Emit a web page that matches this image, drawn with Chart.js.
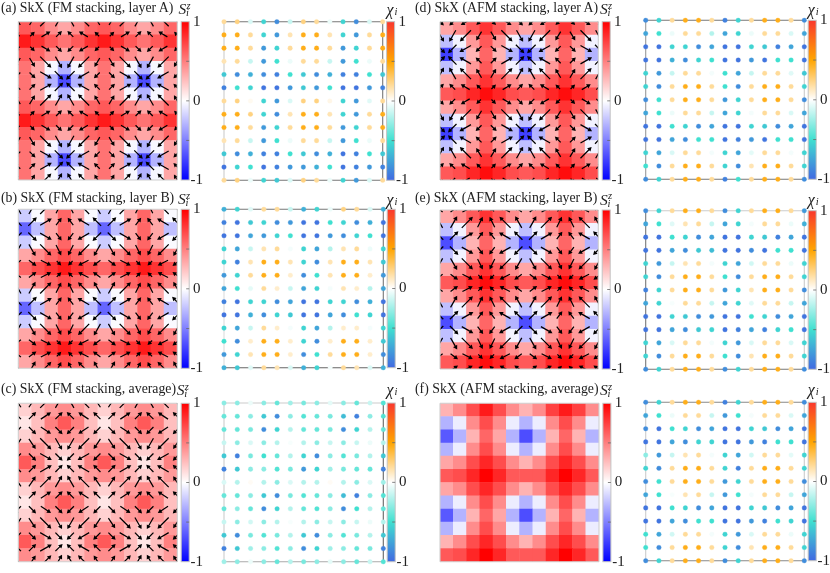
<!DOCTYPE html>
<html><head><meta charset="utf-8">
<script src="https://cdn.jsdelivr.net/npm/chart.js@4"></script>
<style>
html,body{margin:0;padding:0;background:#fff;width:830px;height:573px;overflow:hidden}
canvas{position:absolute}
.t{position:absolute;white-space:nowrap;font-family:"Liberation Serif",serif;color:#222;line-height:1;z-index:5}
.m{font-style:italic}
</style></head><body>
<script>
// ---- tick labels and titles
const barTickLabels = {"1":"1","0":"0","-1":"-1"};
const titles = ["(a) SkX (FM stacking, layer A)","(b) SkX (FM stacking, layer B)","(c) SkX (FM stacking, average)","(d) SkX (AFM stacking, layer A)","(e) SkX (AFM stacking, layer B)","(f) SkX (AFM stacking, average)"];

// ---- S^z heat maps (12 x 12 cells, top row first)
const heatA = [
[.65,.6,.45,.35,.45,.6,.65,.6,.45,.35,.45,.6],
[.9,.8,.65,.55,.65,.8,.9,.8,.65,.55,.65,.8],
[.65,.6,.45,.35,.45,.6,.65,.6,.45,.35,.45,.6],
[.55,.35,-.03,-.3,-.03,.35,.55,.35,-.03,-.3,-.03,.35],
[.55,.35,-.3,-.7,-.3,.35,.55,.35,-.3,-.7,-.3,.35],
[.55,.35,-.03,-.3,-.03,.35,.55,.35,-.03,-.3,-.03,.35],
[.65,.6,.45,.35,.45,.6,.65,.6,.45,.35,.45,.6],
[.9,.8,.65,.55,.65,.8,.9,.8,.65,.55,.65,.8],
[.65,.6,.45,.35,.45,.6,.65,.6,.45,.35,.45,.6],
[.55,.35,-.03,-.3,-.03,.35,.55,.35,-.03,-.3,-.03,.35],
[.55,.35,-.3,-.7,-.3,.35,.55,.35,-.3,-.7,-.3,.35],
[.55,.35,-.03,-.3,-.03,.35,.55,.35,-.03,-.3,-.03,.35]];
const heatB = [
[-.2,-.02,.35,.6,.35,-.02,-.2,-.02,.35,.6,.35,-.02],
[-.6,-.25,.35,.6,.35,-.25,-.6,-.25,.35,.6,.35,-.25],
[-.2,-.02,.35,.6,.35,-.02,-.2,-.02,.35,.6,.35,-.02],
[.35,.45,.6,.7,.6,.45,.35,.45,.6,.7,.6,.45],
[.6,.7,.8,.9,.8,.7,.6,.7,.8,.9,.8,.7],
[.35,.45,.6,.7,.6,.45,.35,.45,.6,.7,.6,.45],
[-.2,-.02,.35,.6,.35,-.02,-.2,-.02,.35,.6,.35,-.02],
[-.6,-.25,.35,.6,.35,-.25,-.6,-.25,.35,.6,.35,-.25],
[-.2,-.02,.35,.6,.35,-.02,-.2,-.02,.35,.6,.35,-.02],
[.35,.45,.6,.7,.6,.45,.35,.45,.6,.7,.6,.45],
[.6,.7,.8,.9,.8,.7,.6,.7,.8,.9,.8,.7],
[.35,.45,.6,.7,.6,.45,.35,.45,.6,.7,.6,.45]];
const heatC = [
[.18,.28,.4,.45,.4,.28,.18,.28,.4,.45,.4,.28],
[.1,.25,.5,.65,.5,.25,.1,.25,.5,.65,.5,.25],
[.18,.28,.4,.45,.4,.28,.18,.28,.4,.45,.4,.28],
[.45,.4,.28,.18,.28,.4,.45,.4,.28,.18,.28,.4],
[.65,.5,.25,.1,.25,.5,.65,.5,.25,.1,.25,.5],
[.45,.4,.28,.18,.28,.4,.45,.4,.28,.18,.28,.4],
[.18,.28,.4,.45,.4,.28,.18,.28,.4,.45,.4,.28],
[.1,.25,.5,.65,.5,.25,.1,.25,.5,.65,.5,.25],
[.18,.28,.4,.45,.4,.28,.18,.28,.4,.45,.4,.28],
[.45,.4,.28,.18,.28,.4,.45,.4,.28,.18,.28,.4],
[.65,.5,.25,.1,.25,.5,.65,.5,.25,.1,.25,.5],
[.45,.4,.28,.18,.28,.4,.45,.4,.28,.18,.28,.4]];
const heatD = [
[.35,.45,.65,.8,.65,.45,.35,.45,.65,.8,.65,.45],
[-.25,-.05,.4,.65,.4,-.05,-.25,-.05,.4,.65,.4,-.05],
[-.75,-.3,.3,.6,.3,-.3,-.75,-.3,.3,.6,.3,-.3],
[-.25,-.05,.4,.65,.4,-.05,-.25,-.05,.4,.65,.4,-.05],
[.35,.45,.65,.8,.65,.45,.35,.45,.65,.8,.65,.45],
[.65,.7,.85,.95,.85,.7,.65,.7,.85,.95,.85,.7],
[.35,.45,.65,.8,.65,.45,.35,.45,.65,.8,.65,.45],
[-.25,-.05,.4,.65,.4,-.05,-.25,-.05,.4,.65,.4,-.05],
[-.75,-.3,.3,.6,.3,-.3,-.75,-.3,.3,.6,.3,-.3],
[-.25,-.05,.4,.65,.4,-.05,-.25,-.05,.4,.65,.4,-.05],
[.35,.45,.65,.8,.65,.45,.35,.45,.65,.8,.65,.45],
[.65,.7,.85,.95,.85,.7,.65,.7,.85,.95,.85,.7]];
const heatE = [
[.35,.45,.65,.8,.65,.45,.35,.45,.65,.8,.65,.45],
[-.25,-.05,.4,.65,.4,-.05,-.25,-.05,.4,.65,.4,-.05],
[-.7,-.3,.3,.6,.3,-.3,-.7,-.3,.3,.6,.3,-.3],
[-.25,-.05,.4,.65,.4,-.05,-.25,-.05,.4,.65,.4,-.05],
[.35,.45,.65,.8,.65,.45,.35,.45,.65,.8,.65,.45],
[.65,.7,.85,.95,.85,.7,.65,.7,.85,.95,.85,.7],
[.35,.45,.65,.8,.65,.45,.35,.45,.65,.8,.65,.45],
[-.25,-.05,.4,.65,.4,-.05,-.25,-.05,.4,.65,.4,-.05],
[-.7,-.3,.3,.6,.3,-.3,-.7,-.3,.3,.6,.3,-.3],
[-.25,-.05,.4,.65,.4,-.05,-.25,-.05,.4,.65,.4,-.05],
[.35,.45,.65,.8,.65,.45,.35,.45,.65,.8,.65,.45],
[.65,.7,.85,.95,.85,.7,.65,.7,.85,.95,.85,.7]];
const heatF = [
[.3,.45,.7,.9,.7,.45,.3,.45,.75,.9,.75,.45],
[-.3,-.07,.45,.7,.45,-.07,-.3,-.07,.45,.7,.45,-.07],
[-.65,-.3,.3,.6,.35,-.3,-.7,-.3,.3,.6,.3,-.3],
[-.3,-.07,.45,.7,.45,-.07,-.3,-.07,.45,.7,.45,-.07],
[.35,.45,.7,.85,.7,.45,.3,.45,.7,.85,.7,.45],
[.65,.7,.85,1,.85,.65,.65,.65,.85,1,.85,.65],
[.35,.45,.7,.85,.7,.45,.3,.45,.7,.85,.7,.45],
[-.3,-.07,.45,.7,.45,-.07,-.3,-.07,.45,.7,.45,-.07],
[-.65,-.3,.3,.6,.35,-.3,-.7,-.3,.3,.6,.3,-.3],
[-.3,-.07,.45,.7,.45,-.07,-.3,-.07,.45,.7,.45,-.07],
[.3,.45,.7,.85,.7,.45,.3,.45,.7,.85,.7,.45],
[.65,.7,.85,1,.85,.65,.65,.65,.85,1,.85,.65]];

// ---- in-plane spin arrows on the 13 x 13 lattice (tenths of a cell, y downwards)
const uA = [
[-3,3,7,4,-4,-7,-3,3,7,4,-4,-7,-3],
[-2,2,5,3,-3,-5,-2,2,5,3,-3,-5,-2],
[-2,2,5,3,-3,-5,-2,2,5,3,-3,-5,-2],
[-3,3,7,4,-4,-7,-3,3,7,4,-4,-7,-3],
[-3,3,7,5,-5,-7,-3,3,7,5,-5,-7,-3],
[-3,3,7,5,-5,-7,-3,3,7,5,-5,-7,-3],
[-3,3,7,4,-4,-7,-3,3,7,4,-4,-7,-3],
[-2,2,5,3,-3,-5,-2,2,5,3,-3,-5,-2],
[-2,2,5,3,-3,-5,-2,2,5,3,-3,-5,-2],
[-3,3,7,4,-4,-7,-3,3,7,4,-4,-7,-3],
[-3,3,7,5,-5,-7,-3,3,7,5,-5,-7,-3],
[-3,3,7,5,-5,-7,-3,3,7,5,-5,-7,-3],
[-3,3,7,4,-4,-7,-3,3,7,4,-4,-7,-3]];
const vA = [
[-5,-5,-7,-7,-7,-7,-5,-5,-7,-7,-7,-7,-5],
[-2,-2,-3,-3,-3,-3,-2,-2,-3,-3,-3,-3,-2],
[2,2,3,3,3,3,2,2,3,3,3,3,2],
[5,5,7,7,7,7,5,5,7,7,7,7,5],
[3,3,4,5,5,4,3,3,4,5,5,4,3],
[-3,-3,-4,-5,-5,-4,-3,-3,-4,-5,-5,-4,-3],
[-5,-5,-7,-7,-7,-7,-5,-5,-7,-7,-7,-7,-5],
[-2,-2,-3,-3,-3,-3,-2,-2,-3,-3,-3,-3,-2],
[2,2,3,3,3,3,2,2,3,3,3,3,2],
[5,5,7,7,7,7,5,5,7,7,7,7,5],
[3,3,4,5,5,4,3,3,4,5,5,4,3],
[-3,-3,-4,-5,-5,-4,-3,-3,-4,-5,-5,-4,-3],
[-5,-5,-7,-7,-7,-7,-5,-5,-7,-7,-7,-7,-5]];
const uB = [
[-4,4,7,3,-3,-7,-4,4,7,3,-3,-7,-4],
[-5,5,7,3,-3,-7,-5,5,7,3,-3,-7,-5],
[-5,5,7,3,-3,-7,-5,5,7,3,-3,-7,-5],
[-4,4,7,3,-3,-7,-4,4,7,3,-3,-7,-4],
[-4,4,6,2,-2,-6,-4,4,6,2,-2,-6,-4],
[-4,4,6,2,-2,-6,-4,4,6,2,-2,-6,-4],
[-4,4,7,3,-3,-7,-4,4,7,3,-3,-7,-4],
[-5,5,7,3,-3,-7,-5,5,7,3,-3,-7,-5],
[-5,5,7,3,-3,-7,-5,5,7,3,-3,-7,-5],
[-4,4,7,3,-3,-7,-4,4,7,3,-3,-7,-4],
[-4,4,6,2,-2,-6,-4,4,6,2,-2,-6,-4],
[-4,4,6,2,-2,-6,-4,4,6,2,-2,-6,-4],
[-4,4,7,3,-3,-7,-4,4,7,3,-3,-7,-4]];
const vB = [
[-7,-7,-7,-6,-6,-7,-7,-7,-7,-6,-6,-7,-7],
[-5,-5,-4,-4,-4,-4,-5,-5,-4,-4,-4,-4,-5],
[5,5,4,4,4,4,5,5,4,4,4,4,5],
[7,7,7,6,6,7,7,7,7,6,6,7,7],
[3,3,3,2,2,3,3,3,3,2,2,3,3],
[-3,-3,-3,-2,-2,-3,-3,-3,-3,-2,-2,-3,-3],
[-7,-7,-7,-6,-6,-7,-7,-7,-7,-6,-6,-7,-7],
[-5,-5,-4,-4,-4,-4,-5,-5,-4,-4,-4,-4,-5],
[5,5,4,4,4,4,5,5,4,4,4,4,5],
[7,7,7,6,6,7,7,7,7,6,6,7,7],
[3,3,3,2,2,3,3,3,3,2,2,3,3],
[-3,-3,-3,-2,-2,-3,-3,-3,-3,-2,-2,-3,-3],
[-7,-7,-7,-6,-6,-7,-7,-7,-7,-6,-6,-7,-7]];
const uC = [
[-4,4,7,4,-4,-7,-4,4,7,4,-4,-7,-4],
[-4,4,6,4,-4,-6,-4,4,6,4,-4,-6,-4],
[-4,4,6,4,-4,-6,-4,4,6,4,-4,-6,-4],
[-4,4,7,4,-4,-7,-4,4,7,4,-4,-7,-4],
[-4,4,7,4,-4,-7,-4,4,7,4,-4,-7,-4],
[-4,4,7,4,-4,-7,-4,4,7,4,-4,-7,-4],
[-4,4,7,4,-4,-7,-4,4,7,4,-4,-7,-4],
[-4,4,6,4,-4,-6,-4,4,6,4,-4,-6,-4],
[-4,4,6,4,-4,-6,-4,4,6,4,-4,-6,-4],
[-4,4,7,4,-4,-7,-4,4,7,4,-4,-7,-4],
[-4,4,7,4,-4,-7,-4,4,7,4,-4,-7,-4],
[-4,4,7,4,-4,-7,-4,4,7,4,-4,-7,-4],
[-4,4,7,4,-4,-7,-4,4,7,4,-4,-7,-4]];
const vC = [
[-6,-6,-7,-7,-7,-7,-6,-6,-7,-7,-7,-7,-6],
[-4,-4,-4,-4,-4,-4,-4,-4,-4,-4,-4,-4,-4],
[4,4,4,4,4,4,4,4,4,4,4,4,4],
[6,6,7,7,7,7,6,6,7,7,7,7,6],
[4,4,4,4,4,4,4,4,4,4,4,4,4],
[-4,-4,-4,-4,-4,-4,-4,-4,-4,-4,-4,-4,-4],
[-6,-6,-7,-7,-7,-7,-6,-6,-7,-7,-7,-7,-6],
[-4,-4,-4,-4,-4,-4,-4,-4,-4,-4,-4,-4,-4],
[4,4,4,4,4,4,4,4,4,4,4,4,4],
[6,6,7,7,7,7,6,6,7,7,7,7,6],
[4,4,4,4,4,4,4,4,4,4,4,4,4],
[-4,-4,-4,-4,-4,-4,-4,-4,-4,-4,-4,-4,-4],
[-6,-6,-7,-7,-7,-7,-6,-6,-7,-7,-7,-7,-6]];
const uD = [
[3,-3,-5,-2,2,5,3,-3,-5,-2,2,5,3],
[4,-4,-7,-3,3,7,4,-4,-7,-3,3,7,4],
[5,-5,-7,-3,3,7,5,-5,-7,-3,3,7,5],
[5,-5,-7,-3,3,7,5,-5,-7,-3,3,7,5],
[4,-4,-7,-3,3,7,4,-4,-7,-3,3,7,4],
[3,-3,-5,-2,2,5,3,-3,-5,-2,2,5,3],
[3,-3,-5,-2,2,5,3,-3,-5,-2,2,5,3],
[4,-4,-7,-3,3,7,4,-4,-7,-3,3,7,4],
[5,-5,-7,-3,3,7,5,-5,-7,-3,3,7,5],
[5,-5,-7,-3,3,7,5,-5,-7,-3,3,7,5],
[4,-4,-7,-3,3,7,4,-4,-7,-3,3,7,4],
[3,-3,-5,-2,2,5,3,-3,-5,-2,2,5,3],
[3,-3,-5,-2,2,5,3,-3,-5,-2,2,5,3]];
const vD = [
[3,3,3,2,2,3,3,3,3,2,2,3,3],
[7,7,7,5,5,7,7,7,7,5,5,7,7],
[5,5,4,3,3,4,5,5,4,3,3,4,5],
[-5,-5,-4,-3,-3,-4,-5,-5,-4,-3,-3,-4,-5],
[-7,-7,-7,-5,-5,-7,-7,-7,-7,-5,-5,-7,-7],
[-3,-3,-3,-2,-2,-3,-3,-3,-3,-2,-2,-3,-3],
[3,3,3,2,2,3,3,3,3,2,2,3,3],
[7,7,7,5,5,7,7,7,7,5,5,7,7],
[5,5,4,3,3,4,5,5,4,3,3,4,5],
[-5,-5,-4,-3,-3,-4,-5,-5,-4,-3,-3,-4,-5],
[-7,-7,-7,-5,-5,-7,-7,-7,-7,-5,-5,-7,-7],
[-3,-3,-3,-2,-2,-3,-3,-3,-3,-2,-2,-3,-3],
[3,3,3,2,2,3,3,3,3,2,2,3,3]];
const uE = [
[-4,4,6,2,-2,-6,-4,4,6,2,-2,-6,-4],
[-4,4,7,3,-3,-7,-4,4,7,3,-3,-7,-4],
[-5,5,7,3,-3,-7,-5,5,7,3,-3,-7,-5],
[-5,5,7,3,-3,-7,-5,5,7,3,-3,-7,-5],
[-4,4,7,3,-3,-7,-4,4,7,3,-3,-7,-4],
[-4,4,6,2,-2,-6,-4,4,6,2,-2,-6,-4],
[-4,4,6,2,-2,-6,-4,4,6,2,-2,-6,-4],
[-4,4,7,3,-3,-7,-4,4,7,3,-3,-7,-4],
[-5,5,7,3,-3,-7,-5,5,7,3,-3,-7,-5],
[-5,5,7,3,-3,-7,-5,5,7,3,-3,-7,-5],
[-4,4,7,3,-3,-7,-4,4,7,3,-3,-7,-4],
[-4,4,6,2,-2,-6,-4,4,6,2,-2,-6,-4],
[-4,4,6,2,-2,-6,-4,4,6,2,-2,-6,-4]];
const vE = [
[-3,-3,-3,-2,-2,-3,-3,-3,-3,-2,-2,-3,-3],
[-7,-7,-7,-6,-6,-7,-7,-7,-7,-6,-6,-7,-7],
[-5,-5,-4,-4,-4,-4,-5,-5,-4,-4,-4,-4,-5],
[5,5,4,4,4,4,5,5,4,4,4,4,5],
[7,7,7,6,6,7,7,7,7,6,6,7,7],
[3,3,3,2,2,3,3,3,3,2,2,3,3],
[-3,-3,-3,-2,-2,-3,-3,-3,-3,-2,-2,-3,-3],
[-7,-7,-7,-6,-6,-7,-7,-7,-7,-6,-6,-7,-7],
[-5,-5,-4,-4,-4,-4,-5,-5,-4,-4,-4,-4,-5],
[5,5,4,4,4,4,5,5,4,4,4,4,5],
[7,7,7,6,6,7,7,7,7,6,6,7,7],
[3,3,3,2,2,3,3,3,3,2,2,3,3],
[-3,-3,-3,-2,-2,-3,-3,-3,-3,-2,-2,-3,-3]];

// ---- chi_i dots on the 13 x 13 lattice (top row first)
const chiA = [
[.2,.25,-.1,-.55,-.85,-.15,.25,.2,-.05,-.55,-.85,-.1,.2],
[.45,.45,.2,-.55,-.8,.15,.45,.45,.15,-.55,-.8,.2,.45],
[.45,.45,.2,-.8,-.55,.2,.45,.45,.2,-.8,-.55,.2,.45],
[.15,.2,-.15,-.8,-.5,-.05,.2,.2,-.15,-.8,-.5,-.05,.2],
[-.6,-.85,-.7,-.85,-.9,-.5,-.6,-.85,-.7,-.9,-.9,-.5,-.6],
[-.9,-.5,-.55,-.95,-.95,-.8,-.6,-.8,-.5,-.95,-.95,-.8,-.9],
[.2,.25,.03,-.55,-.8,-.1,.25,.25,.05,-.55,-.8,-.08,.2],
[.45,.45,.25,-.55,-.85,.15,.45,.45,.15,-.55,-.8,.2,.45],
[.45,.45,.2,-.8,-.55,.2,.45,.45,.2,-.8,-.55,.2,.45],
[.15,.2,-.15,-.8,-.5,-.05,.2,.2,-.15,-.8,-.5,-.05,.2],
[-.6,-.85,-.7,-.9,-.9,-.5,-.6,-.85,-.7,-.95,-.9,-.5,-.6],
[-.95,-.55,-.5,-.95,-.9,-.8,-.8,-.7,-.5,-.95,-.9,-.8,-.9],
[.2,.25,-.05,-.55,-.6,-.1,.25,.2,-.05,-.55,-.8,-.1,.2]];
const chiB = [
[-.7,-.55,-.08,.2,.2,-.15,-.7,-.55,-.05,.25,.2,-.1,-.7],
[-.9,-.95,-.6,-.55,-.85,-.8,-.95,-.95,-.5,-.55,-.85,-.7,-.95],
[-.95,-.95,-.75,-.8,-.55,-.5,-.95,-.95,-.8,-.85,-.55,-.5,-.95],
[-.55,-.75,-.15,.15,.2,-.03,-.55,-.75,-.2,.15,.2,-.05,-.55],
[-.55,-.9,.15,.45,.45,.15,-.55,-.85,.15,.45,.45,.15,-.6],
[-.8,-.55,.2,.45,.45,.1,-.85,-.5,.15,.45,.45,.1,-.8],
[-.75,-.5,-.07,.2,.1,-.15,-.75,-.55,-.03,.15,.1,-.2,-.75],
[-.9,-.95,-.55,-.55,-.85,-.75,-.95,-.95,-.55,-.55,-.85,-.7,-.95],
[-.95,-.95,-.7,-.85,-.55,-.6,-.95,-.95,-.75,-.85,-.5,-.55,-.95],
[-.55,-.75,-.15,.2,.1,-.03,-.55,-.75,-.2,.1,.1,-.03,-.55],
[-.5,-.85,.1,.45,.45,.1,-.55,-.85,.1,.45,.45,.1,-.6],
[-.8,-.55,.15,.45,.45,.1,-.85,-.5,.2,.45,.45,.1,-.85],
[-.7,-.6,-.08,.2,.15,-.1,-.7,-.55,-.03,.2,.15,-.1,-.7]];
const chiC = [
[-.3,-.3,-.05,-.3,-.4,-.25,-.35,-.3,-.07,-.3,-.4,-.15,-.45],
[-.4,-.4,-.3,-.6,-.85,-.3,-.45,-.4,-.35,-.65,-.9,-.3,-.45],
[-.4,-.4,-.35,-.85,-.55,-.2,-.4,-.4,-.35,-.85,-.55,-.2,-.4],
[-.15,-.3,-.1,-.3,-.2,-.02,-.2,-.3,-.15,-.3,-.15,-.05,-.2],
[-.6,-.9,-.35,-.5,-.4,-.2,-.55,-.85,-.3,-.45,-.35,-.2,-.6],
[-.9,-.6,-.3,-.3,-.45,-.35,-.8,-.55,-.25,-.35,-.4,-.4,-.9],
[-.1,-.2,.02,-.2,-.3,-.1,-.2,-.2,.02,-.2,-.3,-.1,-.25],
[-.4,-.4,-.3,-.6,-.85,-.35,-.45,-.4,-.3,-.65,-.9,-.3,-.45],
[-.4,-.3,-.4,-.85,-.55,-.2,-.4,-.45,-.3,-.85,-.5,-.2,-.4],
[-.15,-.3,-.12,-.3,-.2,-.02,-.2,-.3,-.15,-.3,-.15,-.05,-.2],
[-.6,-.85,-.35,-.45,-.35,-.2,-.6,-.85,-.3,-.45,-.35,-.2,-.6],
[-.9,-.6,-.25,-.3,-.45,-.3,-.85,-.55,-.25,-.3,-.4,-.35,-.9],
[-.25,-.3,-.05,-.3,-.4,-.2,-.35,-.3,-.07,-.3,-.4,-.15,-.45]];
const chiD = [
[-.85,-.55,.2,.45,.45,.2,-.9,-.55,.2,.45,.45,.2,-.85],
[-.75,-.5,-.05,.2,.2,-.2,-.75,-.55,-.05,.2,.2,-.1,-.75],
[-.95,-.95,-.55,-.55,-.85,-.75,-.95,-.95,-.55,-.6,-.9,-.75,-.95],
[-.95,-.95,-.7,-.85,-.55,-.5,-.95,-.95,-.8,-.95,-.5,-.5,-.95],
[-.55,-.8,-.15,.2,.2,-.03,-.5,-.75,-.15,.2,.2,-.08,-.6],
[-.55,-.85,.2,.45,.45,.2,-.5,-.85,.2,.45,.45,.2,-.55],
[-.85,-.5,.2,.45,.45,.2,-.8,-.55,.2,.45,.45,.2,-.85],
[-.75,-.5,-.05,.2,.2,-.15,-.75,-.55,-.03,.2,.2,-.1,-.75],
[-.95,-.95,-.5,-.55,-.85,-.75,-.95,-.95,-.55,-.6,-.85,-.75,-.95],
[-.95,-.95,-.75,-.85,-.5,-.5,-.95,-.9,-.8,-.95,-.5,-.5,-.95],
[-.55,-.75,-.1,.2,.2,-.03,-.55,-.75,-.07,.2,.2,-.03,-.55],
[-.5,-.85,.2,.45,.45,.2,-.55,-.85,.15,.45,.45,.2,-.55],
[-.85,-.55,.2,.45,.45,.2,-.9,-.5,.2,.45,.45,.2,-.85]];
const chiE = [
[-.85,-.55,.2,.45,.45,.2,-.85,-.55,.2,.45,.45,.2,-.8],
[-.75,-.5,-.08,.15,.2,-.15,-.75,-.55,-.03,.2,.2,-.05,-.7],
[-.95,-.95,-.5,-.55,-.85,-.75,-.95,-.95,-.55,-.6,-.9,-.75,-.95],
[-.95,-.95,-.75,-.85,-.6,-.65,-.95,-.95,-.85,-.95,-.5,-.5,-.95],
[-.55,-.8,-.15,.15,.2,-.03,-.55,-.75,-.12,.2,.2,-.05,-.55],
[-.55,-.85,.2,.45,.45,.2,-.5,-.85,.2,.45,.45,.2,-.55],
[-.9,-.55,.2,.45,.45,.2,-.8,-.55,.15,.45,.45,.2,-.85],
[-.75,-.55,-.02,.2,.2,-.15,-.75,-.55,-.08,.2,.2,-.15,-.75],
[-.95,-.95,-.55,-.6,-.85,-.8,-.95,-.95,-.5,-.55,-.85,-.75,-.95],
[-.95,-.95,-.75,-.85,-.6,-.55,-.95,-.9,-.75,-.9,-.55,-.5,-.95],
[-.55,-.75,-.1,.2,.2,-.03,-.55,-.8,-.1,.2,.2,-.1,-.55],
[-.55,-.85,.2,.45,.45,.2,-.5,-.85,.15,.45,.45,.2,-.55],
[-.85,-.55,.2,.45,.45,.2,-.85,-.55,.2,.45,.45,.2,-.85]];
const chiF = [
[-.85,-.55,.2,.45,.45,.2,-.9,-.55,.2,.45,.45,.2,-.85],
[-.75,-.5,-.05,.2,.2,-.15,-.8,-.5,-.03,.2,.2,-.1,-.75],
[-.85,-.95,-.5,-.55,-.85,-.75,-.95,-.95,-.55,-.6,-.85,-.75,-.95],
[-.95,-.95,-.75,-.85,-.55,-.55,-.95,-.95,-.8,-.9,-.5,-.5,-.95],
[-.3,-.8,-.15,.15,.2,-.03,-.55,-.75,-.12,.2,.2,-.07,-.55],
[-.55,-.85,.2,.45,.45,.2,-.55,-.9,.2,.45,.45,.2,-.55],
[-.85,-.5,.2,.45,.45,.2,-.8,-.55,.2,.45,.45,.2,-.85],
[-.75,-.5,-.02,.15,.2,-.15,-.8,-.5,-.03,.2,.2,-.15,-.75],
[-.95,-.95,-.5,-.55,-.85,-.75,-.95,-.95,-.55,-.6,-.85,-.75,-.95],
[-.95,-.95,-.75,-.85,-.5,-.5,-.95,-.95,-.8,-.9,-.5,-.55,-.95],
[-.5,-.75,-.12,.2,.2,-.03,-.55,-.8,-.1,.2,.2,-.05,-.55],
[-.5,-.85,.2,.45,.45,.2,-.55,-.85,.15,.45,.45,.2,-.55],
[-.85,-.55,.2,.45,.45,.2,-.85,-.55,.2,.45,.45,.2,-.85]];

// ---- colour maps: value, r, g, b
const heatStops = [[-1,0,0,255],[0,255,255,255],[1,255,0,0]];
const chiStops = [[-1,65,105,225],[-.5,64,224,208],[0,255,255,255],[.5,255,165,0],[1,250,55,45]];

// ---- layout (CSS pixels), not data
const layout = [
 {heat:[18.3,21.7,177.3,180],  dots:[224,21.7,382.7,180.3],  frame:["#777","#777","#777","#ccc"], tx:1,  ty:13,   sx:178.5,sy:14,   cx:386.5,cy:15},
 {heat:[18.3,209.3,177.3,368.3],dots:[224,209.3,383.3,367.7],frame:["#777","#777","#666","#ddd"], tx:1,  ty:202.7,sx:178,  sy:204,  cx:386.5,cy:205},
 {heat:[18.3,403.3,177.3,561.7],dots:[224,403,383.3,561.7],  frame:["#ccc","#666","#aaa","#ccc"], tx:1,  ty:393.5,sx:176.7,sy:395,  cx:386.5,cy:395},
 {heat:[440,21.7,598.3,180],   dots:[645.7,20.3,804.3,179.3],frame:["#777","#ccc","#777","#999"], tx:415,ty:12.5, sx:600,  sy:14,   cx:807.7,cy:15},
 {heat:[440,210,598.3,369],    dots:[645.7,210.7,804.3,369.3],frame:["#ccc","#ccc","#777","#777"],tx:415,ty:202.5,sx:600,  sy:204.5,cx:807.7,cy:205},
 {heat:[440,403.3,599,561.7],  dots:[645.7,402.3,804.3,560.7],frame:["#888","#ccc","#888","#ccc"],tx:415,ty:393.5,sx:600,  sy:395,  cx:807.7,cy:395}
];
const heats=[heatA,heatB,heatC,heatD,heatE,heatF], chis=[chiA,chiB,chiC,chiD,chiE,chiF];
const us=[uA,uB,uC,uD,uE,null], vs=[vA,vB,vC,vD,vE,null];

function colour(stops,v,a){
  let i=0; while(i<stops.length-2 && v>stops[i+1][0]) i++;
  const p=stops[i],q=stops[i+1],f=Math.max(0,Math.min(1,(v-p[0])/(q[0]-p[0])));
  const c=[1,2,3].map(k=>Math.round(p[k]+(q[k]-p[k])*f));
  return a===undefined?`rgb(${c})`:`rgba(${c},${a})`;
}
Chart.defaults.font.family='"Liberation Serif",serif';

function deco(stops,frame,onTop){
  function drawFrame(chart){
    const a=chart.chartArea,c=chart.ctx; c.save(); c.lineWidth=1.1;
    [[a.left,a.top,a.right,a.top],[a.right,a.top,a.right,a.bottom],[a.left,a.bottom,a.right,a.bottom],[a.left,a.top,a.left,a.bottom]].forEach((s,i)=>{
      c.strokeStyle=frame[i]; c.beginPath(); c.moveTo(s[0],s[1]); c.lineTo(s[2],s[3]); c.stroke();
    }); c.restore();
  }
  return {id:'deco',
    beforeDatasetsDraw(chart){
      const y=chart.scales.y2,a=chart.chartArea,c=chart.ctx,top=y.getPixelForValue(1),bot=y.getPixelForValue(-1),x=a.right+3.9,w=8;
      const g=c.createLinearGradient(0,bot,0,top);
      stops.forEach(s=>g.addColorStop((s[0]+1)/2,`rgb(${s[1]},${s[2]},${s[3]})`));
      c.save(); c.fillStyle=g; c.fillRect(x,top,w,bot-top);
      c.strokeStyle='#c4c4c4'; c.lineWidth=1; c.strokeRect(x,top,w,bot-top);
      c.strokeStyle='#666'; c.lineWidth=.8;
      y.ticks.forEach(t=>{ if(Math.abs(t.value)===1) return; const p=y.getPixelForValue(t.value); c.beginPath(); c.moveTo(x+w-3,p); c.lineTo(x+w,p); c.stroke(); });
      c.restore();
      if(!onTop) drawFrame(chart);
    },
    afterDatasetsDraw(chart){ if(onTop) drawFrame(chart); }
  };
}
function make(box,datasets,stops,frame,onTop){
  const L=Math.floor(box[0])-3,T=Math.floor(box[1])-11;
  const W=Math.ceil(box[2]-L+26),H=Math.ceil(box[3]-T+10);
  const cv=document.createElement('canvas'); cv.width=W; cv.height=H;
  cv.style.left=L+'px'; cv.style.top=T+'px'; document.body.appendChild(cv);
  return new Chart(cv,{type:'scatter',data:{datasets},plugins:[deco(stops,frame,onTop)],options:{
    responsive:false,animation:false,events:[],
    layout:{autoPadding:false,padding:{left:box[0]-L,top:box[1]-T,right:W-(box[2]-L)-26,bottom:H-(box[3]-T)}},
    plugins:{legend:{display:false},tooltip:{enabled:false},title:{display:false}},
    scales:{
      x:{type:'linear',min:0,max:12,display:false},
      y:{type:'linear',min:0,max:12,reverse:true,display:false},
      y2:{type:'linear',position:'right',min:-1,max:1,
        afterFit(s){s.width=26;},
        grid:{display:false,drawTicks:true,tickLength:13.25},border:{display:false},
        ticks:{stepSize:.5,autoSkip:false,padding:0,crossAlign:'center',color:'#222',font:{size:15},maxRotation:0,
          callback:v=>barTickLabels[String(v)]||''}}
    }}});
}
function text(str,x,base,size,cls){
  const s=document.createElement('span'); s.className='t '+(cls||''); s.textContent=str;
  s.style.left=x+'px'; s.style.top=(base-.8375*size)+'px'; s.style.fontSize=size+'px';
  document.body.appendChild(s); return s;
}
layout.forEach((lay,n)=>{
  // heat map + arrows
  const cells=[],cellCols=[];
  heats[n].forEach((row,r)=>row.forEach((v,c)=>{cells.push({x:c+.5,y:r+.5}); cellCols.push(colour(heatStops,v));}));
  const cellRadius=((lay.heat[2]-lay.heat[0])/12/2+.25)*Math.SQRT2;
  const sets=[{label:'Sz',data:cells,order:2,pointStyle:'rect',
    pointBackgroundColor:cellCols,pointBorderWidth:0,pointRadius:cellRadius}];
  if(us[n]){
    const pts=[],rad=[],rot=[];
    us[n].forEach((row,j)=>row.forEach((u0,i)=>{
      const u=u0*.1,v=vs[n][j][i]*.1;
      pts.push({x:i-u/2,y:j-v/2}); rad.push(0); rot.push(0);
      pts.push({x:i+u/2,y:j+v/2}); rad.push(2.7); rot.push(Math.atan2(u,-v)*180/Math.PI);
      pts.push({x:null,y:null}); rad.push(0); rot.push(0);
    }));
    sets.push({label:'Sxy',data:pts,order:1,showLine:true,spanGaps:false,borderColor:'#000',borderWidth:1.25,
      pointStyle:'triangle',pointBackgroundColor:'#000',pointBorderWidth:0,pointRadius:rad,pointRotation:rot});
  }
  make(lay.heat,sets,heatStops,Array(4).fill('#cfcfcf'),true);
  // chi dots
  const dots=[],dotCols=[],dotEdge=[];
  chis[n].forEach((row,r)=>row.forEach((v,c)=>{dots.push({x:c,y:r}); dotCols.push(colour(chiStops,v)); dotEdge.push(colour(chiStops,v,.3));}));
  make(lay.dots,[{label:'chi',data:dots,clip:false,pointStyle:'circle',pointRadius:2.3,pointBackgroundColor:dotCols,pointBorderColor:dotEdge,pointBorderWidth:1}],chiStops,lay.frame,false);
  // labels
  text(titles[n],lay.tx,lay.ty,13.8);
  text('S',lay.sx,lay.sy,15.5,'m'); text('z',lay.sx+8,lay.sy-4.5,10.5,'m'); text('i',lay.sx+7.5,lay.sy+3,10.5,'m');
  text('χ',lay.cx,lay.cy,16,'m'); text('i',lay.cx+8,lay.cy+1,10.5,'m');
});
</script>
</body></html>
